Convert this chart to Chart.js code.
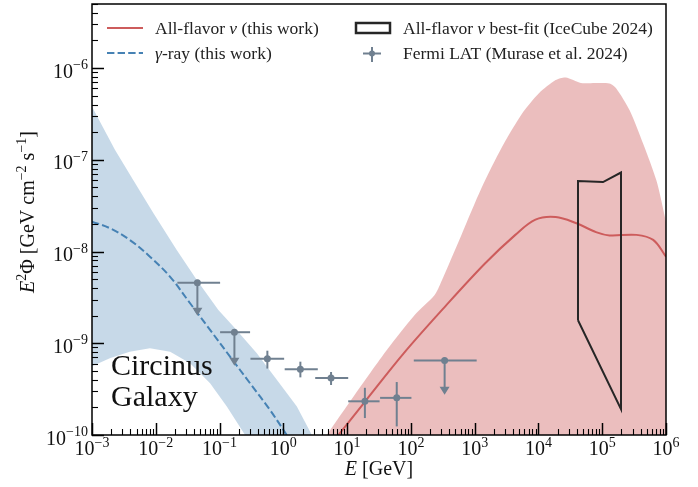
<!DOCTYPE html>
<html>
<head>
<meta charset="utf-8">
<script src="https://cdn.jsdelivr.net/npm/chart.js@4.4.0/dist/chart.umd.min.js"></script>
<style>
  html, body { margin: 0; padding: 0; background: #fff; }
  canvas { display: block; }
</style>
</head>
<body>
<canvas id="sed" width="698" height="487"></canvas>
<script>
// gamma-ray band (this work)
const gammaBandE_hi = [1e-3, 2.3e-3, 4.45e-3, 9.2e-3, 0.0213, 0.044, 0.0958, 0.165, 0.384, 0.79, 1.63, 2.8];
const gammaBandHi   = [3.8e-7, 1.28e-7, 6.0e-8, 2.62e-8, 1.04e-8, 4.9e-9, 2.31e-9, 1.52e-9, 7.8e-10, 4.0e-10, 2.04e-10, 1.0e-10];
const gammaBandE_lo = [1e-3, 1.9e-3, 3.9e-3, 8.1e-3, 0.0168, 0.0345, 0.071, 0.13, 0.251, 2.8];
const gammaBandLo   = [5.6e-10, 6.85e-10, 8.1e-10, 8.8e-10, 8.1e-10, 6.05e-10, 3.66e-10, 2.04e-10, 1.0e-10, 1.0e-10];
const gammaE    = [1e-3, 1.9e-3, 3.9e-3, 8.1e-3, 0.0168, 0.0345, 0.071, 0.146, 0.301, 0.62, 1.13];
const gammaFlux = [2.12e-8, 1.8e-8, 1.34e-8, 8.8e-9, 5.3e-9, 2.73e-9, 1.4e-9, 7.15e-10, 3.66e-10, 1.87e-10, 1.0e-10];

// all-flavor neutrino band + curve (this work)
const nuBandE  = [4.8, 12.7, 42.8, 113, 234, 298, 620, 1285, 2670, 5510, 10100, 18600, 26800, 46200, 79800, 1.3e5, 1.66e5, 2.69e5, 4.4e5, 7.1e5, 1e6];
const nuBandHi = [1e-10, 2.64e-10, 8.6e-10, 2.01e-9, 3.33e-9, 4.66e-9, 1.52e-8, 4.96e-8, 1.37e-7, 3.18e-7, 5.3e-7, 7.4e-7, 7.9e-7, 6.9e-7, 6.9e-7, 6.8e-7, 6.0e-7, 3.47e-7, 1.49e-7, 5.9e-8, 2.1e-8];
const nuE    = [7.3, 18.3, 78.8, 338, 1450, 4340, 8980, 18600, 38500, 79800, 1.3e5, 3.44e5, 6.3e5, 1e6];
const nuFlux = [1e-10, 2.23e-10, 7.9e-10, 2.48e-9, 7.4e-9, 1.52e-8, 2.23e-8, 2.38e-8, 2.05e-8, 1.63e-8, 1.5e-8, 1.52e-8, 1.34e-8, 8.8e-9];

// IceCube 2024 best-fit contour
const iceE    = [41700, 41700, 1.03e5, 1.97e5, 1.97e5, 41700];
const iceFlux = [1.78e-9, 5.87e-8, 5.73e-8, 7.27e-8, 1.91e-10, 1.78e-9];

// Fermi LAT (Murase et al. 2024)
const fermiE    = [0.0449, 0.171, 0.562, 1.85, 5.6, 19, 60, 338];
const fermiFlux = [4.58e-9, 1.32e-9, 6.8e-10, 5.2e-10, 4.19e-10, 2.33e-10, 2.54e-10, 6.5e-10];
const fermiElo  = [0.0218, 0.102, 0.305, 1.05, 3.16, 10.4, 32.9, 111];
const fermiEhi  = [0.102, 0.301, 1.03, 3.47, 10.4, 32.3, 102, 1075];
const fermiFlo  = [1.99e-9, 5.7e-10, 5.3e-10, 4.25e-10, 3.51e-10, 1.53e-10, 1.24e-10, 2.75e-10];
const fermiFhi  = [null, null, 8.3e-10, 6.3e-10, 4.86e-10, 3.27e-10, 3.78e-10, null];
const fermiUL   = [true, true, false, false, false, false, false, true];

// axes
const xMajor = [1e-3, 1e-2, 1e-1, 1e0, 1e1, 1e2, 1e3, 1e4, 1e5, 1e6];
const xExp   = ['\u22123', '\u22122', '\u22121', '0', '1', '2', '3', '4', '5', '6'];
const yMajor = [1e-10, 1e-9, 1e-8, 1e-7, 1e-6];
const yExp   = ['\u221210', '\u22129', '\u22128', '\u22127', '\u22126'];
const X_MIN = 1e-3, X_MAX = 1e6, Y_MIN = 1e-10, Y_MAX = 5e-6;

const RED = '#cd5c5c', BLUE = '#4682b4', GREY = '#708090', DARK = '#262626';
const SERIF = '"Liberation Serif", "Times New Roman", serif';

const pts = (xs, ys) => xs.map((x, i) => ({ x: x, y: ys[i] }));

function buildLogTicks(majors, lo, hi) {
    const out = [];
    majors.forEach(m => {
        out.push({ value: m, major: true });
        for (let k = 2; k <= 9; k++) {
            const v = m * k;
            if (v >= lo && v <= hi) out.push({ value: v, major: false });
        }
    });
    return out;
}

function setFont(ctx, size, italic) {
    ctx.font = (italic ? 'italic ' : '') + size + 'px ' + SERIF;
}
function richWidth(ctx, parts, size) {
    let w = 0;
    parts.forEach(p => { setFont(ctx, p.s ? size * 0.7 : size, p.i); w += ctx.measureText(p.t).width; });
    return w;
}
function drawRich(ctx, parts, x, y, size, align) {
    const w = richWidth(ctx, parts, size);
    let cx = align === 'center' ? x - w / 2 : align === 'right' ? x - w : x;
    ctx.textAlign = 'left';
    ctx.textBaseline = 'alphabetic';
    parts.forEach(p => {
        const sz = p.s ? size * 0.7 : size;
        setFont(ctx, sz, p.i);
        ctx.fillText(p.t, cx, p.s ? y - size * 0.42 : y);
        cx += ctx.measureText(p.t).width;
    });
}

const FERMI_IDX = 6;

const decorPlugin = {
    id: 'decor',
    beforeDatasetDraw(chart, args) {
        if (args.index !== FERMI_IDX) return;
        const ctx = chart.ctx, xs = chart.scales.x, ys = chart.scales.y;
        ctx.save();
        ctx.strokeStyle = GREY;
        ctx.fillStyle = GREY;
        ctx.lineWidth = 2;
        fermiE.forEach((e, i) => {
            const px = xs.getPixelForValue(e), py = ys.getPixelForValue(fermiFlux[i]);
            ctx.beginPath();
            ctx.moveTo(xs.getPixelForValue(fermiElo[i]), py);
            ctx.lineTo(xs.getPixelForValue(fermiEhi[i]), py);
            ctx.stroke();
            const pLo = ys.getPixelForValue(fermiFlo[i]);
            if (fermiUL[i]) {
                // upper limit: shaft + arrow head
                ctx.beginPath();
                ctx.moveTo(px, py);
                ctx.lineTo(px, pLo - 4);
                ctx.stroke();
                ctx.beginPath();
                ctx.moveTo(px - 5, pLo - 8);
                ctx.lineTo(px + 5, pLo - 8);
                ctx.lineTo(px, pLo);
                ctx.closePath();
                ctx.fill();
            } else {
                ctx.beginPath();
                ctx.moveTo(px, ys.getPixelForValue(fermiFhi[i]));
                ctx.lineTo(px, pLo);
                ctx.stroke();
            }
        });
        ctx.restore();
    },
    afterDraw(chart) {
        const ctx = chart.ctx, a = chart.chartArea, xs = chart.scales.x, ys = chart.scales.y;
        ctx.save();
        // ticks pointing inwards
        ctx.strokeStyle = '#000';
        xs.ticks.forEach(t => {
            const px = Math.round(xs.getPixelForValue(t.value)) + 0.5;
            ctx.lineWidth = t.major ? 1.5 : 1.1;
            ctx.beginPath();
            ctx.moveTo(px, a.bottom);
            ctx.lineTo(px, a.bottom - (t.major ? 12 : 6));
            ctx.stroke();
        });
        ys.ticks.forEach(t => {
            const py = Math.round(ys.getPixelForValue(t.value)) + 0.5;
            ctx.lineWidth = t.major ? 1.5 : 1.1;
            ctx.beginPath();
            ctx.moveTo(a.left, py);
            ctx.lineTo(a.left + (t.major ? 12 : 6), py);
            ctx.stroke();
        });
        // frame
        ctx.lineWidth = 1.5;
        ctx.strokeRect(a.left, a.top, a.right - a.left, a.bottom - a.top);

        // tick labels
        ctx.fillStyle = '#111';
        xMajor.forEach((v, i) => {
            drawRich(ctx, [{ t: '10' }, { t: xExp[i], s: true }], xs.getPixelForValue(v), 455, 20, 'center');
        });
        yMajor.forEach((v, i) => {
            const py = ys.getPixelForValue(v);
            drawRich(ctx, [{ t: '10' }, { t: yExp[i], s: true }], 88, py + 9.5, 20, 'right');
        });

        // axis titles
        drawRich(ctx, [{ t: 'E', i: true }, { t: ' [GeV]' }], (a.left + a.right) / 2, 475, 20, 'center');
        ctx.save();
        ctx.translate(34, 212);
        ctx.rotate(-Math.PI / 2);
        drawRich(ctx, [{ t: 'E', i: true }, { t: '2', s: true }, { t: '\u03A6 [GeV cm' }, { t: '\u22122', s: true },
            { t: ' s' }, { t: '\u22121', s: true }, { t: ']' }], 0, 0, 20, 'center');
        ctx.restore();

        // source name
        drawRich(ctx, [{ t: 'Circinus' }], 111, 375, 30, 'left');
        drawRich(ctx, [{ t: 'Galaxy' }], 111, 406, 30, 'left');

        // legend
        const fs = 17.5;
        ctx.lineWidth = 2;
        ctx.strokeStyle = RED;
        ctx.beginPath(); ctx.moveTo(107, 28); ctx.lineTo(143, 28); ctx.stroke();
        ctx.strokeStyle = BLUE;
        ctx.setLineDash([7.4, 3.2]);
        ctx.beginPath(); ctx.moveTo(107, 53); ctx.lineTo(143, 53); ctx.stroke();
        ctx.setLineDash([]);
        ctx.fillStyle = '#222';
        drawRich(ctx, [{ t: 'All-flavor ' }, { t: '\u03BD', i: true }, { t: ' (this work)' }], 155, 33.5, fs, 'left');
        drawRich(ctx, [{ t: '\u03B3', i: true }, { t: '-ray (this work)' }], 155, 58.5, fs, 'left');

        ctx.strokeStyle = DARK;
        ctx.lineWidth = 2.5;
        ctx.strokeRect(356, 23, 34, 10);
        ctx.strokeStyle = GREY;
        ctx.lineWidth = 2;
        ctx.beginPath();
        ctx.moveTo(363, 53.5); ctx.lineTo(381, 53.5);
        ctx.moveTo(372, 47); ctx.lineTo(372, 62);
        ctx.stroke();
        ctx.fillStyle = GREY;
        ctx.beginPath(); ctx.arc(372, 53.5, 3, 0, Math.PI * 2); ctx.fill();
        ctx.fillStyle = '#222';
        drawRich(ctx, [{ t: 'All-flavor ' }, { t: '\u03BD', i: true }, { t: ' best-fit (IceCube 2024)' }], 403, 33.5, fs, 'left');
        drawRich(ctx, [{ t: 'Fermi LAT (Murase et al. 2024)' }], 403, 58.5, fs, 'left');
        ctx.restore();
    }
};

new Chart(document.getElementById('sed'), {
    type: 'line',
    data: {
        datasets: [
            { // 0 gamma band upper
                data: pts(gammaBandE_hi, gammaBandHi), fill: '+1',
                backgroundColor: 'rgba(70,130,180,0.3)', borderWidth: 0, pointRadius: 0, order: 8
            },
            { // 1 gamma band lower
                data: pts(gammaBandE_lo, gammaBandLo), fill: false,
                borderWidth: 0, pointRadius: 0, order: 8
            },
            { // 2 nu band
                data: pts(nuBandE, nuBandHi), fill: 'start',
                backgroundColor: 'rgba(205,92,92,0.4)', borderWidth: 0, pointRadius: 0,
                tension: 0.25, order: 9
            },
            { // 3 gamma curve
                data: pts(gammaE, gammaFlux), fill: false, borderColor: BLUE, borderWidth: 2,
                borderDash: [7.4, 3.2], pointRadius: 0, tension: 0.35, order: 4
            },
            { // 4 nu curve
                data: pts(nuE, nuFlux), fill: false, borderColor: RED, borderWidth: 2,
                pointRadius: 0, tension: 0.35, order: 4
            },
            { // 5 IceCube contour
                data: pts(iceE, iceFlux), fill: false, borderColor: DARK, borderWidth: 2,
                pointRadius: 0, tension: 0, borderJoinStyle: 'miter', order: 3
            },
            { // 6 Fermi LAT points
                data: pts(fermiE, fermiFlux), showLine: false, pointRadius: 3.5,
                pointBackgroundColor: GREY, pointBorderWidth: 0, order: 1
            }
        ]
    },
    options: {
        responsive: false,
        animation: false,
        layout: { padding: { left: 0, right: 32, top: 4, bottom: 0 } },
        scales: {
            x: {
                type: 'logarithmic', min: X_MIN, max: X_MAX,
                grid: { display: false }, border: { display: false },
                ticks: { display: false },
                afterBuildTicks: s => { s.ticks = buildLogTicks(xMajor, X_MIN, X_MAX); },
                afterFit: s => { s.height = 52; }
            },
            y: {
                type: 'logarithmic', min: Y_MIN, max: Y_MAX,
                grid: { display: false }, border: { display: false },
                ticks: { display: false },
                afterBuildTicks: s => { s.ticks = buildLogTicks(yMajor, Y_MIN, Y_MAX); },
                afterFit: s => { s.width = 92; }
            }
        },
        plugins: { legend: { display: false }, tooltip: { enabled: false } }
    },
    plugins: [decorPlugin]
});
</script>
</body>
</html>
